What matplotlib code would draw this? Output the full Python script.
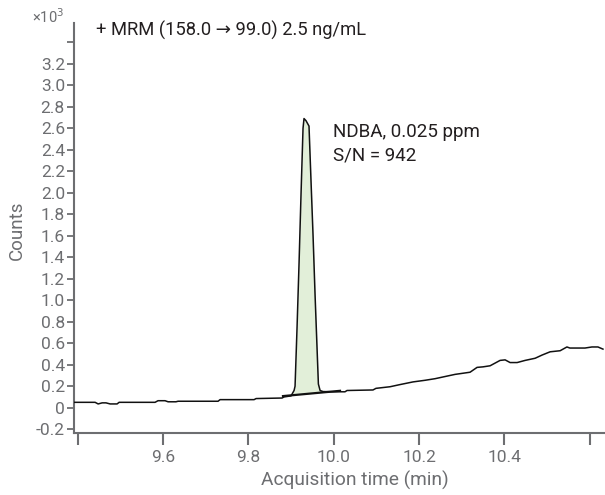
'''
Chromatogram: NDBA MRM trace, 2.5 ng/mL
'''
import numpy as np
import matplotlib
matplotlib.use('Agg')
import matplotlib.pyplot as plt

plt.rcParams['font.family'] = ['Roboto', 'DejaVu Sans']

# acquisition time (min) and counts (x10^3)
time_min = [9.391, 9.4405, 9.4476, 9.457, 9.466, 9.4757, 9.492, 9.4968, 9.581, 9.588,
            9.6045, 9.6116, 9.630, 9.635, 9.7288, 9.7335, 9.8132, 9.818, 9.8788, 9.8835,
            9.8999, 9.907, 9.9093, 9.914, 9.9187, 9.9234, 9.928, 9.9303, 9.935, 9.942,
            9.9468, 9.9515, 9.9562, 9.9609, 9.964, 9.968, 9.975, 9.9983, 10.0264, 10.0311,
            10.092, 10.099, 10.132, 10.1553, 10.186, 10.214, 10.2377, 10.261, 10.2845, 10.3196,
            10.336, 10.350, 10.3666, 10.390, 10.4018, 10.4135, 10.430, 10.4487, 10.4722, 10.4886,
            10.5073, 10.5308, 10.5467, 10.5537, 10.589, 10.6054, 10.6195, 10.6312]
counts = [0.05, 0.05, 0.035, 0.045, 0.045, 0.035, 0.035, 0.05, 0.05, 0.065,
          0.065, 0.055, 0.055, 0.06, 0.06, 0.075, 0.075, 0.085, 0.09, 0.10,
          0.11, 0.16, 0.20, 0.75, 1.35, 2.0, 2.6, 2.69, 2.67, 2.62,
          2.1, 1.6, 1.05, 0.55, 0.22, 0.16, 0.15, 0.148, 0.148, 0.16,
          0.165, 0.18, 0.195, 0.215, 0.24, 0.255, 0.27, 0.29, 0.31, 0.33,
          0.375, 0.38, 0.39, 0.44, 0.445, 0.42, 0.42, 0.44, 0.46, 0.49,
          0.52, 0.53, 0.565, 0.555, 0.555, 0.565, 0.565, 0.545]

# integration baseline of the peak
base_t = [9.881, 10.0147]
base_y = [0.108, 0.157]
peak_start, peak_end = 9.8999, 9.975

title = '+ MRM (158.0 \u2192 99.0) 2.5 ng/mL'
peak_name = 'NDBA, 0.025 ppm'
peak_sn = 'S/N = 942'

y_ticks = [-0.2, 0, 0.2, 0.4, 0.6, 0.8, 1.0, 1.2, 1.4, 1.6, 1.8, 2.0, 2.2, 2.4, 2.6, 2.8, 3.0, 3.2, 3.4]
y_labels = ['-0.2', '0'] + ['%.1f' % v for v in y_ticks[2:-1]] + ['']
x_ticks = [9.4, 9.6, 9.8, 10.0, 10.2, 10.4, 10.6]
x_labels = ['', '9.6', '9.8', '10.0', '10.2', '10.4', '']

grey = '#6d6e71'
ink = '#231f20'

W, H = 605, 495
fig = plt.figure(figsize=(W/100, H/100), dpi=100)
ax = fig.add_axes([74/W, 1-432.7/H, (W-74)/W, (432.7-23)/H])

def fx(px):
    return px/W

def fy(py):
    return 1 - py/H

t = np.array(time_min)
c = np.array(counts)
# fill between trace and integration baseline
m = (t >= peak_start) & (t <= peak_end)
base_interp = np.interp(t[m], base_t, base_y)
ax.fill_between(t[m], base_interp, c[m], color='#e2efd9', lw=0, zorder=1)
ax.plot(base_t, base_y, color='#111111', lw=1.6, zorder=2)
ax.plot(t, c, color='#111111', lw=1.1, zorder=3)

ax.set_xlim(9.391, 10.636)
ax.set_ylim(-0.2326, 3.579)
ax.set_yticks(y_ticks)
ax.set_yticklabels(y_labels)
ax.set_xticks(x_ticks)
ax.set_xticklabels(x_labels)

for s in ['top', 'right']:
    ax.spines[s].set_visible(False)
for s in ['left', 'bottom']:
    ax.spines[s].set_color(grey)
    ax.spines[s].set_linewidth(1.5)
ax.tick_params(axis='y', colors=grey, length=5, width=1.3, pad=1.5, labelsize=12.5)
ax.tick_params(axis='x', colors=grey, length=8.5, width=1.5, pad=4, labelsize=12.5)

# axis labels, placed in pixels to match the reference
fig.text(fx(355), fy(485.7), 'Acquisition time (min)', color=grey, fontsize=13.8,
         ha='center', va='baseline')
fig.text(fx(17), fy(230), 'Counts', color=grey, fontsize=13.5, rotation=90,
         ha='center', va='center')

fig.text(fx(32), fy(17), '\u00d710$^3$', color=grey, fontsize=10.5, va='center', ha='left')
fig.text(fx(96), fy(35.7), title, color=ink, fontsize=13.2, va='baseline', ha='left')
fig.text(fx(333), fy(137.3), peak_name, color=ink, fontsize=13.5, va='baseline', ha='left')
fig.text(fx(333), fy(160), peak_sn, color=ink, fontsize=13.5, va='baseline', ha='left')

plt.savefig('out.png', dpi=100, facecolor='w')
